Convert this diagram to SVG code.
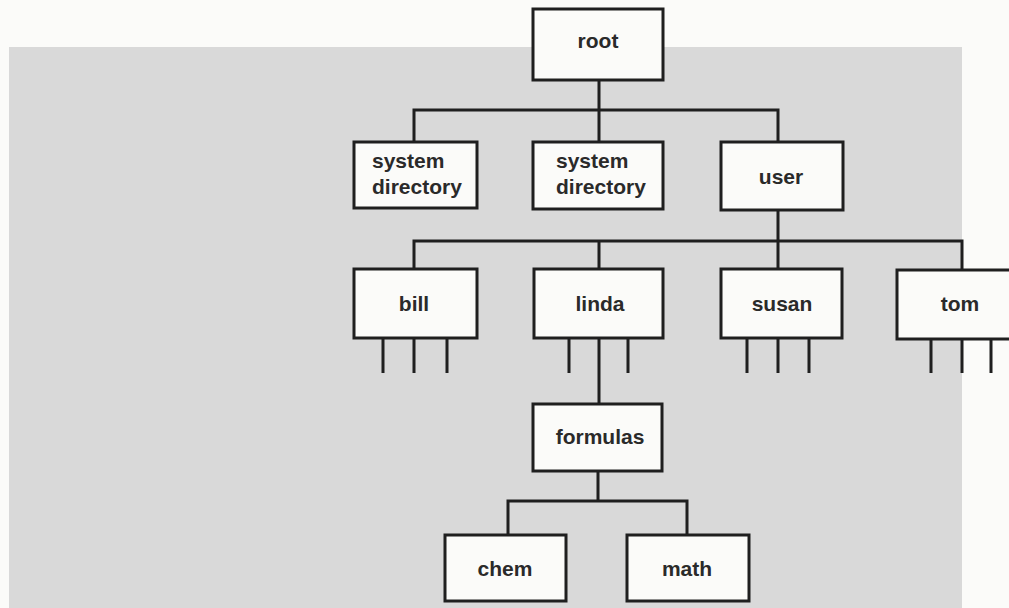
<svg xmlns="http://www.w3.org/2000/svg" width="1009" height="608" viewBox="0 0 1009 608">
<style>
.box{fill:#fbfbf9;stroke:#1f1f1f;stroke-width:3}
.lbl{font-family:"Liberation Sans",Arial,sans-serif;font-weight:bold;font-size:21px;fill:#2a2a2a}
.c{text-anchor:middle}
.ln{fill:none;stroke:#1f1f1f;stroke-width:3;stroke-linecap:butt}
</style>
<rect x="0" y="0" width="1009" height="608" fill="#fbfbf9"/>
<rect x="9" y="47" width="953" height="561" fill="#d9d9d9"/>
<g id="connectors" class="ln">
<path d="M599 80 V142 M414 142 V110 H778 V142"/>
<path d="M778 210 V269 M414 269 V241 H962 V269 M599 241 V269"/>
<path d="M383 338 V373 M414 338 V373 M447 338 V373"/>
<path d="M569 338 V373 M628 338 V373 M599 338 V404"/>
<path d="M747 338 V373 M778 338 V373 M809 338 V373"/>
<path d="M931 338 V373 M962 338 V373 M991 338 V373"/>
<path d="M598 471 V501 M508 535 V501 H687 V535"/>
</g>
<g id="root"><rect class="box" x="533" y="9" width="130" height="71"/><text class="lbl c" x="598" y="48">root</text></g>
<g id="sysdir1"><rect class="box" x="354" y="142" width="123" height="66"/><text class="lbl" x="372" y="168">system</text><text class="lbl" x="372" y="194">directory</text></g>
<g id="sysdir2"><rect class="box" x="533" y="142" width="130" height="67"/><text class="lbl" x="556" y="168">system</text><text class="lbl" x="556" y="194">directory</text></g>
<g id="user"><rect class="box" x="721" y="142" width="122" height="68"/><text class="lbl c" x="781" y="184">user</text></g>
<g id="bill"><rect class="box" x="354" y="269" width="123" height="69"/><text class="lbl c" x="414" y="311">bill</text></g>
<g id="linda"><rect class="box" x="534" y="269" width="129" height="69"/><text class="lbl c" x="600" y="311">linda</text></g>
<g id="susan"><rect class="box" x="721" y="269" width="121" height="69"/><text class="lbl c" x="782" y="311">susan</text></g>
<g id="tom"><rect class="box" x="897" y="270" width="130" height="69"/><text class="lbl c" x="960" y="311">tom</text></g>
<g id="formulas"><rect class="box" x="533" y="404" width="129" height="67"/><text class="lbl c" x="600" y="444">formulas</text></g>
<g id="chem"><rect class="box" x="445" y="535" width="121" height="66"/><text class="lbl c" x="505" y="576">chem</text></g>
<g id="math"><rect class="box" x="627" y="535" width="122" height="66"/><text class="lbl c" x="687" y="576">math</text></g>
</svg>
